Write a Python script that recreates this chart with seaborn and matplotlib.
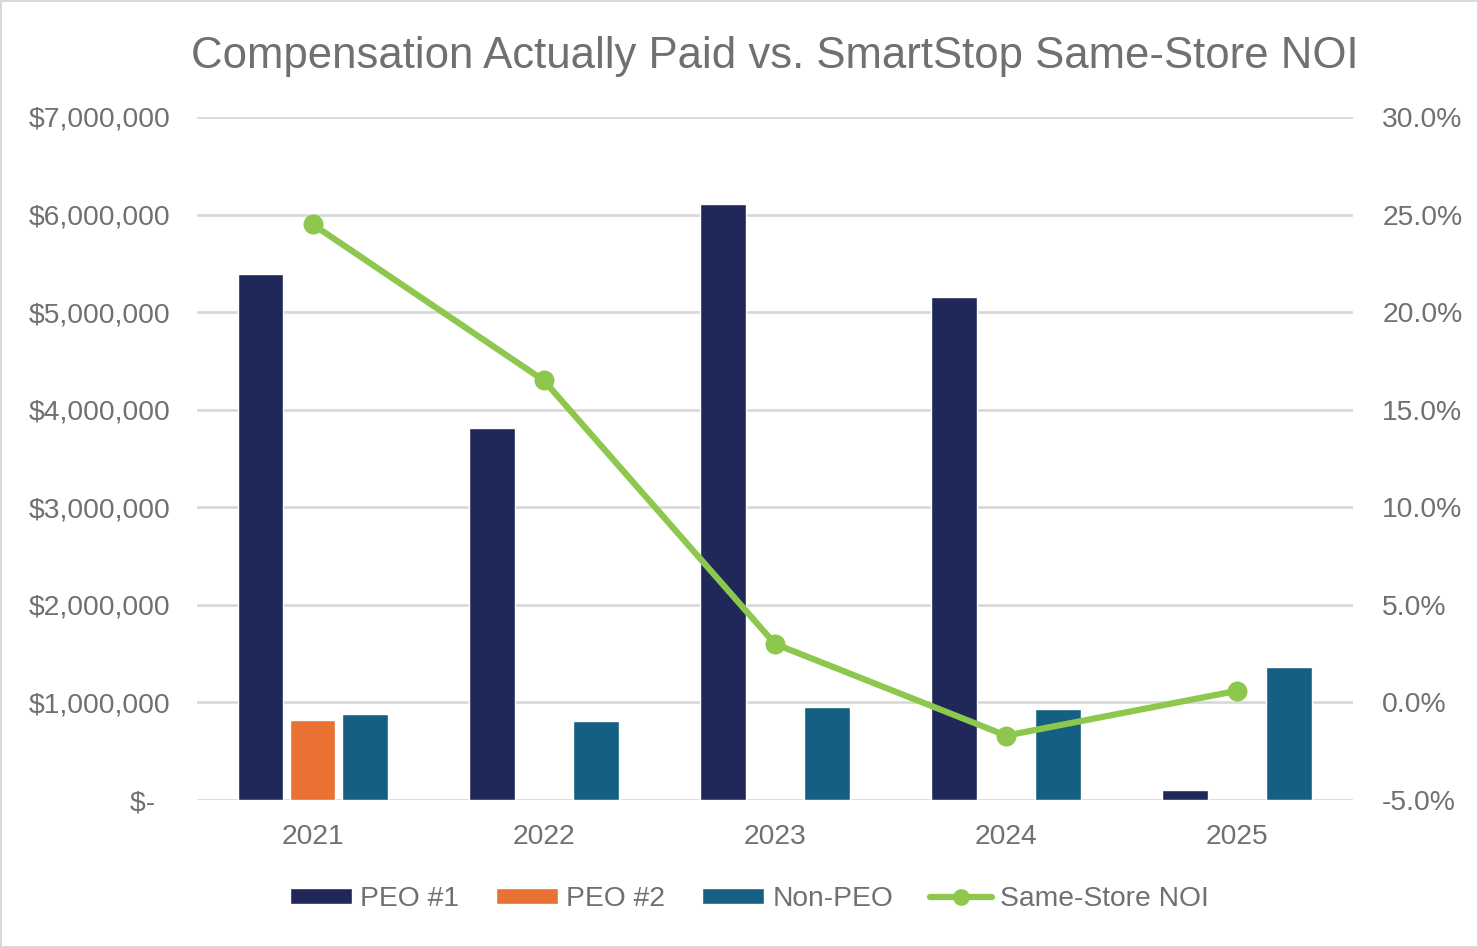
import numpy as np
import pandas as pd
import seaborn as sns
import matplotlib.pyplot as plt
from matplotlib.lines import Line2D
from matplotlib.patches import Patch
from matplotlib.ticker import FuncFormatter

# data
years = ['2021', '2022', '2023', '2024', '2025']
peo1 = [5390000, 3810000, 6110000, 5150000, 100000]
peo2 = [820000, np.nan, np.nan, np.nan, np.nan]
non_peo = [880000, 810000, 950000, 930000, 1360000]
noi = [24.5, 16.5, 3.0, -1.7, 0.6]

series = ['PEO #1', 'PEO #2', 'Non-PEO']
colors = ['#1F2858', '#E97132', '#156082']
line_color = '#8DC74E'
grey = '#707070'

df = pd.DataFrame({
    'Year': years * 3,
    'Series': [s for s in series for _ in years],
    'Value': peo1 + peo2 + non_peo,
})

sns.set_theme(style='white')
plt.rcParams['font.family'] = ['Liberation Sans', 'DejaVu Sans']

fig = plt.figure(figsize=(14.78, 9.47), dpi=100, edgecolor='#D9D9D9', linewidth=2)
ax = fig.add_axes([0.1333, 0.1552, 0.7821, 0.7213])

sns.barplot(data=df, x='Year', y='Value', hue='Series', hue_order=series,
            order=years, palette=colors, width=0.675, gap=0.12,
            saturation=1, ax=ax, legend=False)

ax.set_ylim(0, 7000000)
ax.set_yticks(np.arange(0, 7000001, 1000000))
ax.yaxis.set_major_formatter(FuncFormatter(
    lambda v, p: '$-  ' if v == 0 else f'${v:,.0f}'))
ax.grid(axis='y', color='#D9D9D9', linewidth=2)
ax.set_axisbelow(True)
ax.set_xlabel('')
ax.set_ylabel('')
for s in ax.spines.values():
    s.set_visible(False)
ax.tick_params(axis='both', length=0, labelsize=20.3, colors=grey)
ax.tick_params(axis='y', pad=19)
ax.tick_params(axis='x', pad=17)

ax2 = ax.twinx()
sns.pointplot(x=years, y=noi, order=years, color=line_color, markers='o',
              markersize=11, linewidth=4.5, ax=ax2, errorbar=None)
ax2.set_ylim(-5, 30)
ax2.set_yticks(np.arange(-5, 31, 5))
ax2.yaxis.set_major_formatter(FuncFormatter(lambda v, p: f'{v:.1f}%'))
for s in ax2.spines.values():
    s.set_visible(False)
ax2.tick_params(axis='y', length=0, labelsize=20.3, colors=grey, pad=21)
ax2.set_ylabel('')
ax.set_xlim(-0.5, 4.5)

fig.suptitle('Compensation Actually Paid vs. SmartStop Same-Store NOI',
             fontsize=31.5, color=grey, x=0.524, y=0.962)

handles = [Patch(facecolor=c, label=s) for c, s in zip(colors, series)]
handles.append(Line2D([], [], color=line_color, linewidth=4.5, marker='o',
                      markersize=11, label='Same-Store NOI'))
fig.legend(handles=handles, loc='center', bbox_to_anchor=(0.507, 0.051),
           ncol=4, frameon=False, fontsize=20.3, labelcolor=grey,
           handlelength=2.2, handleheight=0.5, handletextpad=0.3,
           columnspacing=1.3)

fig.savefig('out.png', dpi=100)
